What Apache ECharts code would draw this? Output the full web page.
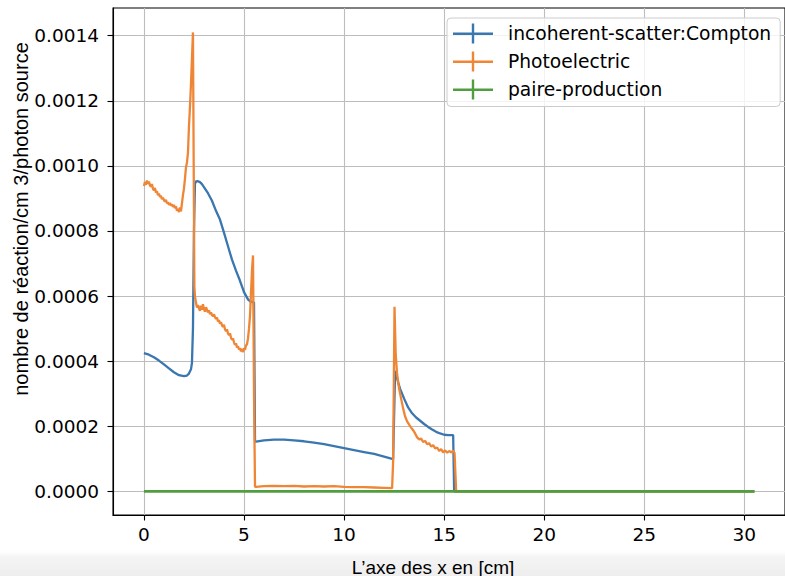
<!DOCTYPE html>
<html>
<head>
<meta charset="utf-8">
<script src="https://cdn.jsdelivr.net/npm/echarts@6/dist/echarts.min.js"></script>
<style>
html,body{margin:0;padding:0;background:#fff;}
#chart{width:785px;height:576px;}
</style>
</head>
<body>
<div id="chart"></div>
<script>
// ---- data ----
const seriesNames = ['incoherent-scatter:Compton', 'Photoelectric', 'paire-production'];

const comptonX = [0.0, 0.25, 0.5, 0.75, 1.0, 1.25, 1.5, 1.75, 2.0, 2.15, 2.25, 2.35, 2.40, 2.45, 2.50, 2.55, 2.60, 2.70, 2.80, 2.90, 3.00, 3.20, 3.40, 3.60, 3.80, 4.00, 4.20, 4.40, 4.60, 4.80, 5.00, 5.20, 5.30, 5.40, 5.50, 5.55, 5.60, 6.0, 6.5, 7.0, 7.5, 8.0, 8.5, 9.0, 9.5, 10.0, 10.5, 11.0, 11.5, 12.0, 12.45, 12.55, 12.60, 12.70, 12.80, 13.0, 13.2, 13.4, 13.6, 13.8, 14.0, 14.2, 14.4, 14.6, 14.8, 15.0, 15.2, 15.45, 15.50, 30.5];
const comptonY = [4.25e-4, 4.20e-4, 4.12e-4, 4.02e-4, 3.90e-4, 3.78e-4, 3.66e-4, 3.57e-4, 3.54e-4, 3.56e-4, 3.62e-4, 3.75e-4, 3.95e-4, 5.00e-4, 8.00e-4, 9.45e-4, 9.52e-4, 9.53e-4, 9.50e-4, 9.44e-4, 9.35e-4, 9.16e-4, 8.93e-4, 8.62e-4, 8.35e-4, 7.95e-4, 7.53e-4, 7.12e-4, 6.78e-4, 6.47e-4, 6.12e-4, 5.90e-4, 5.84e-4, 5.82e-4, 5.80e-4, 1.53e-4, 1.53e-4, 1.57e-4, 1.59e-4, 1.59e-4, 1.57e-4, 1.54e-4, 1.50e-4, 1.45e-4, 1.39e-4, 1.33e-4, 1.27e-4, 1.21e-4, 1.15e-4, 1.07e-4, 0.99e-4, 3.70e-4, 3.60e-4, 3.35e-4, 3.15e-4, 2.85e-4, 2.58e-4, 2.40e-4, 2.27e-4, 2.17e-4, 2.07e-4, 1.98e-4, 1.90e-4, 1.83e-4, 1.78e-4, 1.74e-4, 1.73e-4, 1.73e-4, 0, 0];

const photoX = [0.00, 0.05, 0.10, 0.15, 0.20, 0.25, 0.30, 0.35, 0.40, 0.45, 0.50, 0.55, 0.60, 0.65, 0.70, 0.75, 0.80, 0.85, 0.90, 0.95, 1.00, 1.05, 1.10, 1.15, 1.20, 1.25, 1.30, 1.35, 1.40, 1.45, 1.50, 1.55, 1.60, 1.65, 1.70, 1.75, 1.80, 1.85, 1.90, 1.95, 2.00, 2.05, 2.10, 2.15, 2.20, 2.25, 2.30, 2.35, 2.40, 2.45, 2.52, 2.55, 2.60, 2.65, 2.70, 2.75, 2.80, 2.85, 2.90, 2.95, 3.00, 3.05, 3.10, 3.15, 3.20, 3.25, 3.30, 3.35, 3.40, 3.45, 3.50, 3.55, 3.60, 3.65, 3.70, 3.75, 3.80, 3.85, 3.90, 3.95, 4.00, 4.05, 4.10, 4.15, 4.20, 4.25, 4.30, 4.35, 4.40, 4.45, 4.50, 4.55, 4.60, 4.65, 4.70, 4.75, 4.80, 4.85, 4.90, 4.95, 5.00, 5.05, 5.10, 5.15, 5.20, 5.25, 5.30, 5.35, 5.40, 5.45, 5.50, 5.55, 5.60, 6.0, 6.5, 7.0, 7.5, 8.0, 8.5, 9.0, 9.5, 10.0, 10.5, 11.0, 11.5, 12.0, 12.40, 12.45, 12.52, 12.58, 12.65, 12.75, 12.85, 12.95, 13.05, 13.15, 13.25, 13.35, 13.45, 13.55, 13.65, 13.75, 13.85, 13.95, 14.05, 14.15, 14.25, 14.35, 14.45, 14.55, 14.65, 14.75, 14.85, 14.95, 15.05, 15.15, 15.25, 15.35, 15.45, 15.52, 15.60, 30.5];
const photoY = [9.38e-4, 9.50e-4, 9.42e-4, 9.55e-4, 9.45e-4, 9.52e-4, 9.40e-4, 9.36e-4, 9.44e-4, 9.30e-4, 9.25e-4, 9.32e-4, 9.18e-4, 9.22e-4, 9.10e-4, 9.15e-4, 9.05e-4, 9.08e-4, 8.98e-4, 9.02e-4, 8.95e-4, 8.90e-4, 8.96e-4, 8.85e-4, 8.88e-4, 8.80e-4, 8.86e-4, 8.78e-4, 8.82e-4, 8.74e-4, 8.80e-4, 8.70e-4, 8.76e-4, 8.62e-4, 8.68e-4, 8.58e-4, 8.72e-4, 8.60e-4, 8.85e-4, 9.10e-4, 9.30e-4, 9.60e-4, 9.95e-4, 10.1e-4, 10.4e-4, 11.2e-4, 11.8e-4, 12.5e-4, 13.3e-4, 14.1e-4, 6.30e-4, 6.00e-4, 5.80e-4, 5.65e-4, 5.72e-4, 5.62e-4, 5.55e-4, 5.70e-4, 5.58e-4, 5.75e-4, 5.60e-4, 5.52e-4, 5.66e-4, 5.58e-4, 5.50e-4, 5.56e-4, 5.44e-4, 5.50e-4, 5.42e-4, 5.38e-4, 5.44e-4, 5.36e-4, 5.30e-4, 5.34e-4, 5.22e-4, 5.26e-4, 5.15e-4, 5.20e-4, 5.10e-4, 5.05e-4, 5.12e-4, 4.98e-4, 4.92e-4, 4.98e-4, 4.85e-4, 4.80e-4, 4.86e-4, 4.72e-4, 4.66e-4, 4.70e-4, 4.58e-4, 4.50e-4, 4.55e-4, 4.42e-4, 4.46e-4, 4.36e-4, 4.40e-4, 4.30e-4, 4.38e-4, 4.28e-4, 4.40e-4, 4.35e-4, 4.48e-4, 4.52e-4, 4.70e-4, 5.00e-4, 5.40e-4, 6.10e-4, 6.80e-4, 7.25e-4, 3.00e-4, 0.14e-4, 0.14e-4, 0.16e-4, 0.17e-4, 0.16e-4, 0.17e-4, 0.15e-4, 0.16e-4, 0.15e-4, 0.16e-4, 0.14e-4, 0.13e-4, 0.13e-4, 0.12e-4, 0.11e-4, 0.10e-4, 0.90e-4, 5.67e-4, 4.20e-4, 3.60e-4, 3.15e-4, 2.85e-4, 2.55e-4, 2.30e-4, 2.15e-4, 2.05e-4, 1.96e-4, 1.88e-4, 1.78e-4, 1.66e-4, 1.60e-4, 1.62e-4, 1.52e-4, 1.55e-4, 1.45e-4, 1.48e-4, 1.38e-4, 1.42e-4, 1.32e-4, 1.35e-4, 1.24e-4, 1.30e-4, 1.20e-4, 1.26e-4, 1.19e-4, 1.24e-4, 1.20e-4, 1.25e-4, 1.18e-4, 0, 0];

const pairX = [0.0, 30.5];
const pairY = [0, 0];

const xTicks = [0, 5, 10, 15, 20, 25, 30];
const yTicks = [0, 0.0002, 0.0004, 0.0006, 0.0008, 0.0010, 0.0012, 0.0014];

const xLabel = "L’axe des x en [cm]";
const yLabel = "nombre de réaction/cm 3/photon source";

// ---- chart ----
const colors = ['#3a76af', '#ef8636', '#519e3e'];
const zip = (xs, ys) => xs.map((x, i) => [x, ys[i]]);
const tickFont = '"DejaVu Sans", sans-serif';
const labelFont = '"Liberation Sans", Arial, sans-serif';
const legendIcon = 'path://M0,9 L40,9 L40,11.4 L0,11.4 Z M18.8,0 L21.2,0 L21.2,20 L18.8,20 Z';

const chart = echarts.init(document.getElementById('chart'), null, {renderer: 'svg', width: 785, height: 576});
const option = {
  animation: false,
  backgroundColor: '#ffffff',
  color: colors,
  grid: {
    left: 113, top: 8, width: 680.5, height: 507,
    show: true, borderColor: '#000', borderWidth: 1.1, backgroundColor: 'transparent'
  },
  xAxis: {
    type: 'value', min: -1.545, max: 32.03,
    axisLine: {show: true, onZero: false, lineStyle: {color: '#000', width: 1.1}},
    axisTick: {show: true, length: 5.5, customValues: xTicks, lineStyle: {color: '#000', width: 1.1}},
    axisLabel: {customValues: xTicks, margin: 10, color: '#000', fontFamily: tickFont, fontSize: 18.5},
    splitLine: {show: true, lineStyle: {color: '#bdbdbd', width: 1.1}}
  },
  yAxis: {
    type: 'value', min: -0.0000725, max: 0.001485,
    axisLine: {show: true, onZero: false, lineStyle: {color: '#000', width: 1.1}},
    axisTick: {show: true, length: 5.5, customValues: yTicks, lineStyle: {color: '#000', width: 1.1}},
    axisLabel: {customValues: yTicks, margin: 14, color: '#000', fontFamily: tickFont, fontSize: 18.5,
      formatter: v => v.toFixed(4)},
    splitLine: {show: true, lineStyle: {color: '#bdbdbd', width: 1.1}}
  },
  legend: {
    show: true, orient: 'vertical', left: 447, top: 18,
    data: seriesNames.map(n => ({name: n, icon: legendIcon})),
    itemWidth: 40, itemHeight: 20, itemGap: 8,
    padding: [5.5, 9, 7, 6],
    backgroundColor: 'rgba(255,255,255,0.8)', borderColor: '#cccccc', borderWidth: 1, borderRadius: 4,
    selectedMode: false,
    textStyle: {fontFamily: tickFont, fontSize: 18.7, color: '#000', padding: [0, 0, 0, 10]}
  },
  graphic: [
    {type: 'rect', z: -10, shape: {x: 0, y: 551, width: 785, height: 25},
      style: {fill: new echarts.graphic.LinearGradient(0, 0, 0, 1, [{offset: 0, color: '#ffffff'}, {offset: 0.25, color: '#f4f4f4'}, {offset: 1, color: '#eeeeee'}])}},
    {type: 'text', x: 433, y: 567, z: 10,
      style: {text: xLabel, font: '19px ' + labelFont, fill: '#000', textAlign: 'center', textVerticalAlign: 'middle'}},
    {type: 'text', x: 21, y: 219, rotation: Math.PI / 2, z: 10,
      style: {text: yLabel, font: '20px ' + labelFont, fill: '#000', textAlign: 'center', textVerticalAlign: 'middle'}}
  ],
  series: [
    {name: seriesNames[0], type: 'line', data: zip(comptonX, comptonY), showSymbol: false, lineStyle: {width: 2.3}, z: 2},
    {name: seriesNames[1], type: 'line', data: zip(photoX, photoY), showSymbol: false, lineStyle: {width: 2.3}, z: 3},
    {name: seriesNames[2], type: 'line', data: zip(pairX, pairY), showSymbol: false, lineStyle: {width: 2.8}, z: 4}
  ]
};
chart.setOption(option);
</script>
</body>
</html>
